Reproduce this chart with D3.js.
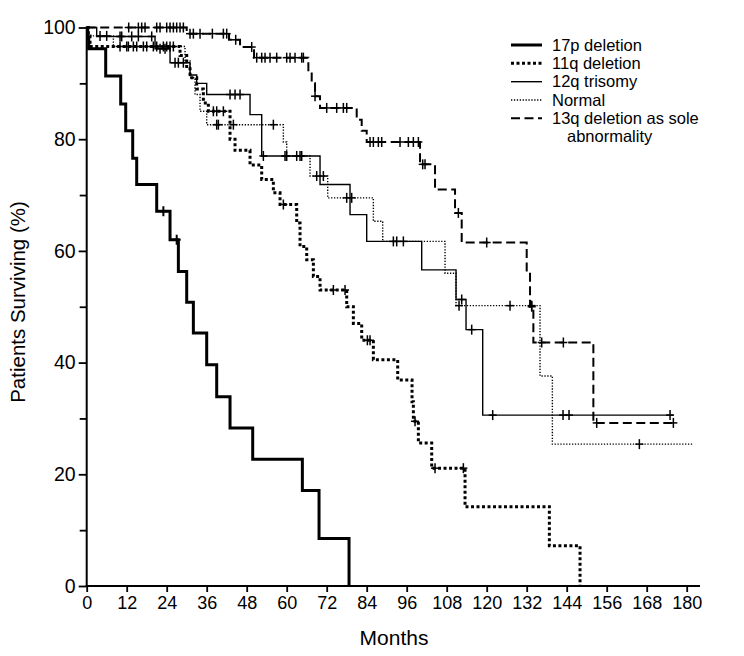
<!DOCTYPE html>
<html><head><meta charset="utf-8">
<script src="https://cdn.jsdelivr.net/npm/d3@7"></script>
<style>body{margin:0;background:#fff}svg{display:block}</style>
</head><body>
<svg id="c" width="744" height="656"></svg>
<script>
// ---- data (months, % surviving) ----
const xTicks = [0,12,24,36,48,60,72,84,96,108,120,132,144,156,168,180];
const yTicks = [0,20,40,60,80,100];
const yMinor = [10,30,50,70,90];

const del17pSteps = [[0,100],[0.3,98],[0.6,96.2],[5.7,91.3],[10.2,86.3],[11.7,81.5],[13.8,76.6],[15,71.9],[21,67.1],[25,62],[27.5,56.3],[30,50.8],[32,45.3],[36,39.6],[39,33.9],[43,28.3],[49.8,22.7],[64.7,17.1],[69.7,8.5],[78.7,0]];
const del17pEnd = 78.7;
const del17pCens = [23,27];

const del11qSteps = [[0,100],[0.5,98.5],[1,96.6],[28,95],[30,93],[31,91],[33,89],[35,86.5],[36.5,85],[43,80],[44.5,78],[49,75.4],[52.5,72.8],[56,70.4],[58,68.3],[63,65],[64,60.8],[66,58.4],[68,55.4],[70,53],[78,50],[80,47],[82.5,44],[86,40.5],[93.3,36.9],[97.6,33],[98,29.5],[99.5,25.6],[103.5,21.1],[113.5,14.2],[138.8,7.2],[148,0]];
const del11qEnd = 148;
const del11qCens = [10,12.5,15,18,21,24,26,38,39,41,59,74,77.5,84.2,85,98.5,104.5,113];

const tri12qSteps = [[0,100],[3,98.4],[20.5,96.2],[25,93.7],[31,91.5],[33,90],[36,88],[49,84.4],[52.5,77],[70,71.9],[79,66.5],[84,61.7],[100.5,56.6],[110.8,51.3],[113.8,45.9],[118.8,30.6]];
const tri12qEnd = 176;
const tri12qCens = [10,10.5,13.5,15.5,19.5,22,23.5,26.5,27.5,29,43,44.5,46,53,59.5,60,63,64,64.5,92,93,95,112.5,115.5,121.8,142.9,144.7,175];

const normalSteps = [[0,100],[0.5,98.5],[8,96.6],[29.5,94],[31,91],[32.5,88],[34,85],[36,82.6],[59,79.5],[60,77],[67,73.4],[72.3,69.5],[86,65.3],[88.8,61.7],[107.5,56],[110.8,50.2],[136,37.6],[139.7,25.4]];
const normalEnd = 182;
const normalCens = [4,6,12,14,17,20,23,25,39,39.5,44,56,69,71,78,79.5,111.7,127,133.5,165.8];

const del13qSteps = [[0,100],[30,98.9],[42.7,97.8],[46,96.5],[50.2,94.6],[66.5,92],[67.5,90],[68.5,87.7],[70,85.6],[81,83.5],[82.5,81.5],[84,79.5],[100,75.5],[104.5,71],[110.5,66.8],[112.5,61.5],[132,56.3],[133,50],[134,43.6],[152,29.2]];
const del13qEnd = 177;
const del13qCens = [12.6,15.5,16.5,17.5,21,22,24,25,26,27,28,29,31,32,34,37.7,41,42,44.7,49.5,51,52.5,53.5,55,57,60,61,62.5,64.5,65,68.5,72,75,77,78,85,86,87.5,88.5,94,96.5,98,99.5,100.8,101.5,111.5,120,133.5,136.5,143,153,176];

const seriesNames = ["17p deletion","11q deletion","12q trisomy","Normal","13q deletion as sole|abnormality"];

// ---- drawing ----
const svg = d3.select("#c");
const x = d3.scaleLinear().domain([0,180]).range([86.7,686.7]);
const y = d3.scaleLinear().domain([0,100]).range([586,27.5]);
const FONT = "'Liberation Sans Narrow','Liberation Sans',Arial,sans-serif";
const SANS = "'Liberation Sans',Arial,sans-serif";

const styles = [
  {w:3, dash:null},
  {w:3, dash:"3,2.5"},
  {w:1.4, dash:null},
  {w:1.4, dash:"1.3,1.6"},
  {w:2, dash:"9,4.5"}
];
const series = [
  {steps:del17pSteps,end:del17pEnd,cens:del17pCens},
  {steps:del11qSteps,end:del11qEnd,cens:del11qCens},
  {steps:tri12qSteps,end:tri12qEnd,cens:tri12qCens},
  {steps:normalSteps,end:normalEnd,cens:normalCens},
  {steps:del13qSteps,end:del13qEnd,cens:del13qCens}
];

const line = d3.line().x(d=>x(d[0])).y(d=>y(d[1])).curve(d3.curveStepAfter);
function valAt(steps,t){let v=steps[0][1];for(const s of steps){if(s[0]<=t)v=s[1];}return v;}

series.forEach((s,i)=>{
  const pts = s.steps.slice();
  const last = pts[pts.length-1];
  if (last[0] < s.end) pts.push([s.end,last[1]]);
  const st = styles[i];
  svg.append("path").attr("d",line(pts)).attr("fill","none").attr("stroke","#000")
    .attr("stroke-width",st.w).attr("stroke-dasharray",st.dash);
  const g = svg.append("g").attr("stroke","#000").attr("stroke-width",i===0?2:1.5);
  s.cens.forEach(t=>{
    const cx = x(t), cy = y(valAt(s.steps,t));
    g.append("line").attr("x1",cx).attr("x2",cx).attr("y1",cy-5).attr("y2",cy+5);
    g.append("line").attr("x1",cx-4).attr("x2",cx+4).attr("y1",cy).attr("y2",cy);
  });
});

// axes
const xAxis = d3.axisBottom(x).tickValues(xTicks).tickSize(6).tickSizeOuter(0);
const gx = svg.append("g").attr("transform",`translate(0,${y(0)})`).call(xAxis);
gx.select(".domain").remove();
gx.selectAll(".tick line").attr("stroke-width",1.8);
gx.selectAll("text").attr("font-family",FONT).attr("font-size",18).attr("fill","#000").attr("dy","0.78em").attr("y",9);
svg.append("line").attr("x1",x(0)-1).attr("x2",700).attr("y1",y(0)).attr("y2",y(0)).attr("stroke","#000").attr("stroke-width",2);

const yAxis = d3.axisLeft(y).tickValues(yTicks).tickSize(8).tickSizeOuter(0);
const gy = svg.append("g").attr("transform",`translate(${x(0)},0)`).call(yAxis);
gy.select(".domain").remove();
gy.selectAll(".tick line").attr("stroke-width",1.8);
gy.selectAll("text").attr("font-family",FONT).attr("font-size",19.5).attr("fill","#000").attr("x",-11);
const yAxisMinor = d3.axisLeft(y).tickValues(yMinor).tickSize(7).tickFormat("");
const gym = svg.append("g").attr("transform",`translate(${x(0)},0)`).call(yAxisMinor);
gym.select(".domain").remove();
gym.selectAll(".tick line").attr("stroke-width",1.8);
svg.append("line").attr("x1",x(0)).attr("x2",x(0)).attr("y1",y(100)-1).attr("y2",y(0)+1).attr("stroke","#000").attr("stroke-width",2);

// axis titles
svg.append("text").attr("x",394).attr("y",645).attr("text-anchor","middle")
  .attr("font-family",FONT).attr("font-size",21).text("Months");
svg.append("text").attr("transform","translate(25,302) rotate(-90)").attr("text-anchor","middle")
  .attr("font-family",SANS).attr("font-size",20.5).text("Patients Surviving (%)");

// legend
const lg = svg.append("g");
const rowY = [45,63.3,81.7,100,118.3];
seriesNames.forEach((n,i)=>{
  const st = styles[i];
  lg.append("line").attr("x1",511).attr("x2",542).attr("y1",rowY[i]).attr("y2",rowY[i])
    .attr("stroke","#000").attr("stroke-width",st.w).attr("stroke-dasharray",st.dash);
  const parts = n.split("|");
  lg.append("text").attr("x",552).attr("y",rowY[i]+5.5).attr("font-family",SANS)
    .attr("font-size",16.5).text(parts[0]);
  if (parts[1]) lg.append("text").attr("x",567).attr("y",rowY[i]+24).attr("font-family",SANS)
    .attr("font-size",16.5).text(parts[1]);
});
</script>
</body></html>
